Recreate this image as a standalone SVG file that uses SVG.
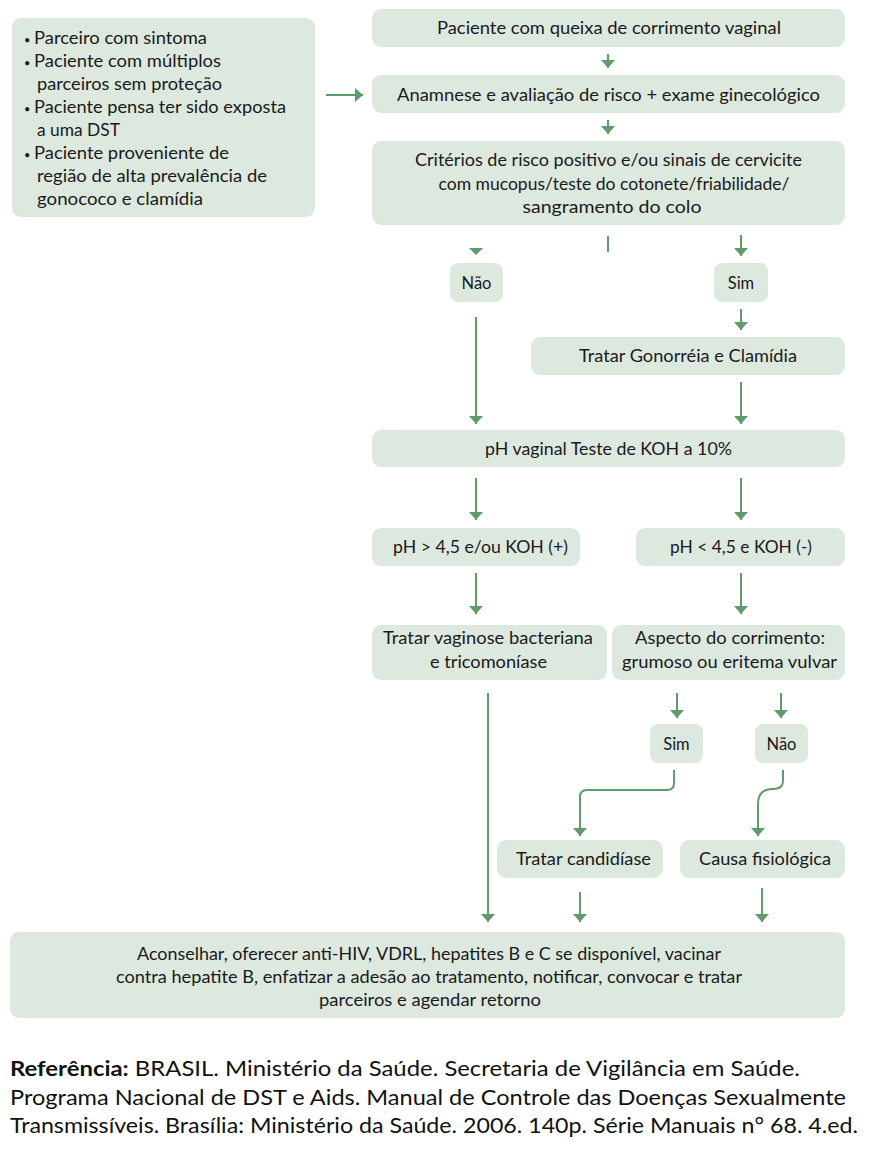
<svg xmlns="http://www.w3.org/2000/svg" width="882" height="1149" viewBox="0 0 882 1149">
<style>
.box{fill:#dde9df;}
.t{font-family:Lato,"Open Sans","Noto Sans",sans-serif;font-size:16.5px;fill:#1a1a1a;text-anchor:middle;}
.l{font-family:Lato,"Open Sans","Noto Sans",sans-serif;font-size:16.5px;fill:#1a1a1a;}
.b{font-size:11px;}
.ref{font-family:Lato,"Open Sans","Noto Sans",sans-serif;font-size:21px;fill:#111;}
.c{stroke:#5f9b6b;stroke-width:2;fill:none;}
.h{fill:#5f9b6b;}
</style>
<defs>
<marker id="ah" markerUnits="userSpaceOnUse" viewBox="0 0 8 14" markerWidth="8" markerHeight="14" refX="8" refY="7" orient="auto">
<path d="M0,0 L8,7 L0,14 Z" fill="#5f9b6b"/>
</marker>
</defs>
<rect width="882" height="1149" fill="#fff"/>

<g id="connectors">
<line class="c" x1="608" y1="54" x2="608" y2="68" marker-end="url(#ah)"/>
<line class="c" x1="608" y1="120" x2="608" y2="134" marker-end="url(#ah)"/>
<line class="c" x1="326" y1="95" x2="363" y2="95" marker-end="url(#ah)"/>
<line class="c" x1="608" y1="236" x2="608" y2="252"/>
<polygon class="h" points="469,248 483,248 476,255"/>
<line class="c" x1="741" y1="235" x2="741" y2="256" marker-end="url(#ah)"/>
<line class="c" x1="476" y1="317" x2="476" y2="424" marker-end="url(#ah)"/>
<line class="c" x1="741" y1="309" x2="741" y2="330" marker-end="url(#ah)"/>
<line class="c" x1="741" y1="382" x2="741" y2="424" marker-end="url(#ah)"/>
<line class="c" x1="476" y1="478" x2="476" y2="520" marker-end="url(#ah)"/>
<line class="c" x1="741" y1="478" x2="741" y2="520" marker-end="url(#ah)"/>
<line class="c" x1="476" y1="573" x2="476" y2="614" marker-end="url(#ah)"/>
<line class="c" x1="741" y1="573" x2="741" y2="614" marker-end="url(#ah)"/>
<line class="c" x1="488" y1="693" x2="488" y2="922" marker-end="url(#ah)"/>
<line class="c" x1="677" y1="693" x2="677" y2="718" marker-end="url(#ah)"/>
<line class="c" x1="781" y1="693" x2="781" y2="718" marker-end="url(#ah)"/>
<path class="c" d="M674,770 V783 Q674,790 667,790 H587 Q580,790 580,797 V836" marker-end="url(#ah)"/>
<path class="c" d="M783,770 V781 C783,787 779,789 773,789 C763,789 758,794 758,804 V836" marker-end="url(#ah)"/>
<line class="c" x1="580" y1="892" x2="580" y2="922" marker-end="url(#ah)"/>
<line class="c" x1="762" y1="888" x2="762" y2="922" marker-end="url(#ah)"/>
</g>

<g id="n-left">
<rect class="box" x="12" y="18" width="303" height="199" rx="9"/>
<text class="l" x="24" y="44"><tspan class="b">•</tspan><tspan x="34" textLength="173" lengthAdjust="spacingAndGlyphs">Parceiro com sintoma</tspan></text>
<text class="l" x="24" y="67"><tspan class="b">•</tspan><tspan x="34" textLength="187" lengthAdjust="spacingAndGlyphs">Paciente com múltiplos</tspan></text>
<text class="l" x="37" y="90" textLength="185" lengthAdjust="spacingAndGlyphs">parceiros sem proteção</text>
<text class="l" x="24" y="113"><tspan class="b">•</tspan><tspan x="34" textLength="252" lengthAdjust="spacingAndGlyphs">Paciente pensa ter sido exposta</tspan></text>
<text class="l" x="37" y="136" textLength="83" lengthAdjust="spacingAndGlyphs">a uma DST</text>
<text class="l" x="24" y="159"><tspan class="b">•</tspan><tspan x="34" textLength="195" lengthAdjust="spacingAndGlyphs">Paciente proveniente de</tspan></text>
<text class="l" x="37" y="182" textLength="230" lengthAdjust="spacingAndGlyphs">região de alta prevalência de</text>
<text class="l" x="37" y="205" textLength="166" lengthAdjust="spacingAndGlyphs">gonococo e clamídia</text>
</g>

<g id="n1">
<rect class="box" x="372" y="9" width="473" height="38" rx="9"/>
<text class="t" x="609" y="34" textLength="344" lengthAdjust="spacingAndGlyphs">Paciente com queixa de corrimento vaginal</text>
</g>
<g id="n2">
<rect class="box" x="372" y="75" width="473" height="38" rx="9"/>
<text class="t" x="608.5" y="101" textLength="423" lengthAdjust="spacingAndGlyphs">Anamnese e avaliação de risco + exame ginecológico</text>
</g>
<g id="n3">
<rect class="box" x="372" y="141" width="473" height="84" rx="9"/>
<text class="t" x="608.5" y="166" textLength="387" lengthAdjust="spacingAndGlyphs">Critérios de risco positivo e/ou sinais de cervicite</text>
<text class="t" x="614" y="190" textLength="351" lengthAdjust="spacingAndGlyphs">com mucopus/teste do cotonete/friabilidade/</text>
<text class="t" x="612" y="213" textLength="179" lengthAdjust="spacingAndGlyphs">sangramento do colo</text>
</g>
<g id="n-nao1">
<rect class="box" x="450" y="263" width="53" height="39" rx="8"/>
<text class="t" x="476.5" y="289">Não</text>
</g>
<g id="n-sim1">
<rect class="box" x="714" y="263" width="54" height="39" rx="8"/>
<text class="t" x="741" y="289">Sim</text>
</g>
<g id="n-gono">
<rect class="box" x="531" y="337" width="314" height="38" rx="9"/>
<text class="t" x="688" y="362" textLength="218" lengthAdjust="spacingAndGlyphs">Tratar Gonorréia e Clamídia</text>
</g>
<g id="n-ph">
<rect class="box" x="372" y="430" width="473" height="37" rx="9"/>
<text class="t" x="608.5" y="455" textLength="247" lengthAdjust="spacingAndGlyphs">pH vaginal Teste de KOH a 10%</text>
</g>
<g id="n-phgt">
<rect class="box" x="372" y="528" width="208" height="38" rx="9"/>
<text class="t" x="480.5" y="553" textLength="175" lengthAdjust="spacingAndGlyphs">pH &gt; 4,5 e/ou KOH (+)</text>
</g>
<g id="n-phlt">
<rect class="box" x="636" y="528" width="209" height="38" rx="9"/>
<text class="t" x="741" y="553" textLength="142" lengthAdjust="spacingAndGlyphs">pH &lt; 4,5 e KOH (-)</text>
</g>
<g id="n-vagi">
<rect class="box" x="372" y="625" width="235" height="55" rx="9"/>
<text class="t" x="488" y="644" textLength="210" lengthAdjust="spacingAndGlyphs">Tratar vaginose bacteriana</text>
<text class="t" x="488.5" y="668" textLength="117" lengthAdjust="spacingAndGlyphs">e tricomoníase</text>
</g>
<g id="n-aspecto">
<rect class="box" x="612" y="625" width="233" height="55" rx="9"/>
<text class="t" x="730" y="644" textLength="190" lengthAdjust="spacingAndGlyphs">Aspecto do corrimento:</text>
<text class="t" x="729.5" y="668" textLength="215" lengthAdjust="spacingAndGlyphs">grumoso ou eritema vulvar</text>
</g>
<g id="n-sim2">
<rect class="box" x="650" y="724" width="53" height="39" rx="8"/>
<text class="t" x="676.5" y="750">Sim</text>
</g>
<g id="n-nao2">
<rect class="box" x="755" y="724" width="53" height="39" rx="8"/>
<text class="t" x="781.5" y="750">Não</text>
</g>
<g id="n-cand">
<rect class="box" x="497" y="840" width="166" height="38" rx="9"/>
<text class="t" x="583.5" y="865" textLength="135" lengthAdjust="spacingAndGlyphs">Tratar candidíase</text>
</g>
<g id="n-fisio">
<rect class="box" x="680" y="840" width="165" height="38" rx="9"/>
<text class="t" x="765" y="865" textLength="132" lengthAdjust="spacingAndGlyphs">Causa fisiológica</text>
</g>
<g id="n-final">
<rect class="box" x="10" y="932" width="835" height="86" rx="9"/>
<text class="t" x="429" y="960" textLength="584" lengthAdjust="spacingAndGlyphs">Aconselhar, oferecer anti-HIV, VDRL, hepatites B e C se disponível, vacinar</text>
<text class="t" x="429" y="983" textLength="626" lengthAdjust="spacingAndGlyphs">contra hepatite B, enfatizar a adesão ao tratamento, notificar, convocar e tratar</text>
<text class="t" x="430" y="1006" textLength="222" lengthAdjust="spacingAndGlyphs">parceiros e agendar retorno</text>
</g>

<g id="reference">
<text class="ref" x="10" y="1076" textLength="790" lengthAdjust="spacingAndGlyphs"><tspan font-weight="bold">Referência:</tspan> BRASIL. Ministério da Saúde. Secretaria de Vigilância em Saúde.</text>
<text class="ref" x="10" y="1104.5" textLength="836" lengthAdjust="spacingAndGlyphs">Programa Nacional de DST e Aids. Manual de Controle das Doenças Sexualmente</text>
<text class="ref" x="10" y="1133" textLength="848" lengthAdjust="spacingAndGlyphs">Transmissíveis. Brasília: Ministério da Saúde. 2006. 140p. Série Manuais n° 68. 4.ed.</text>
</g>
</svg>
